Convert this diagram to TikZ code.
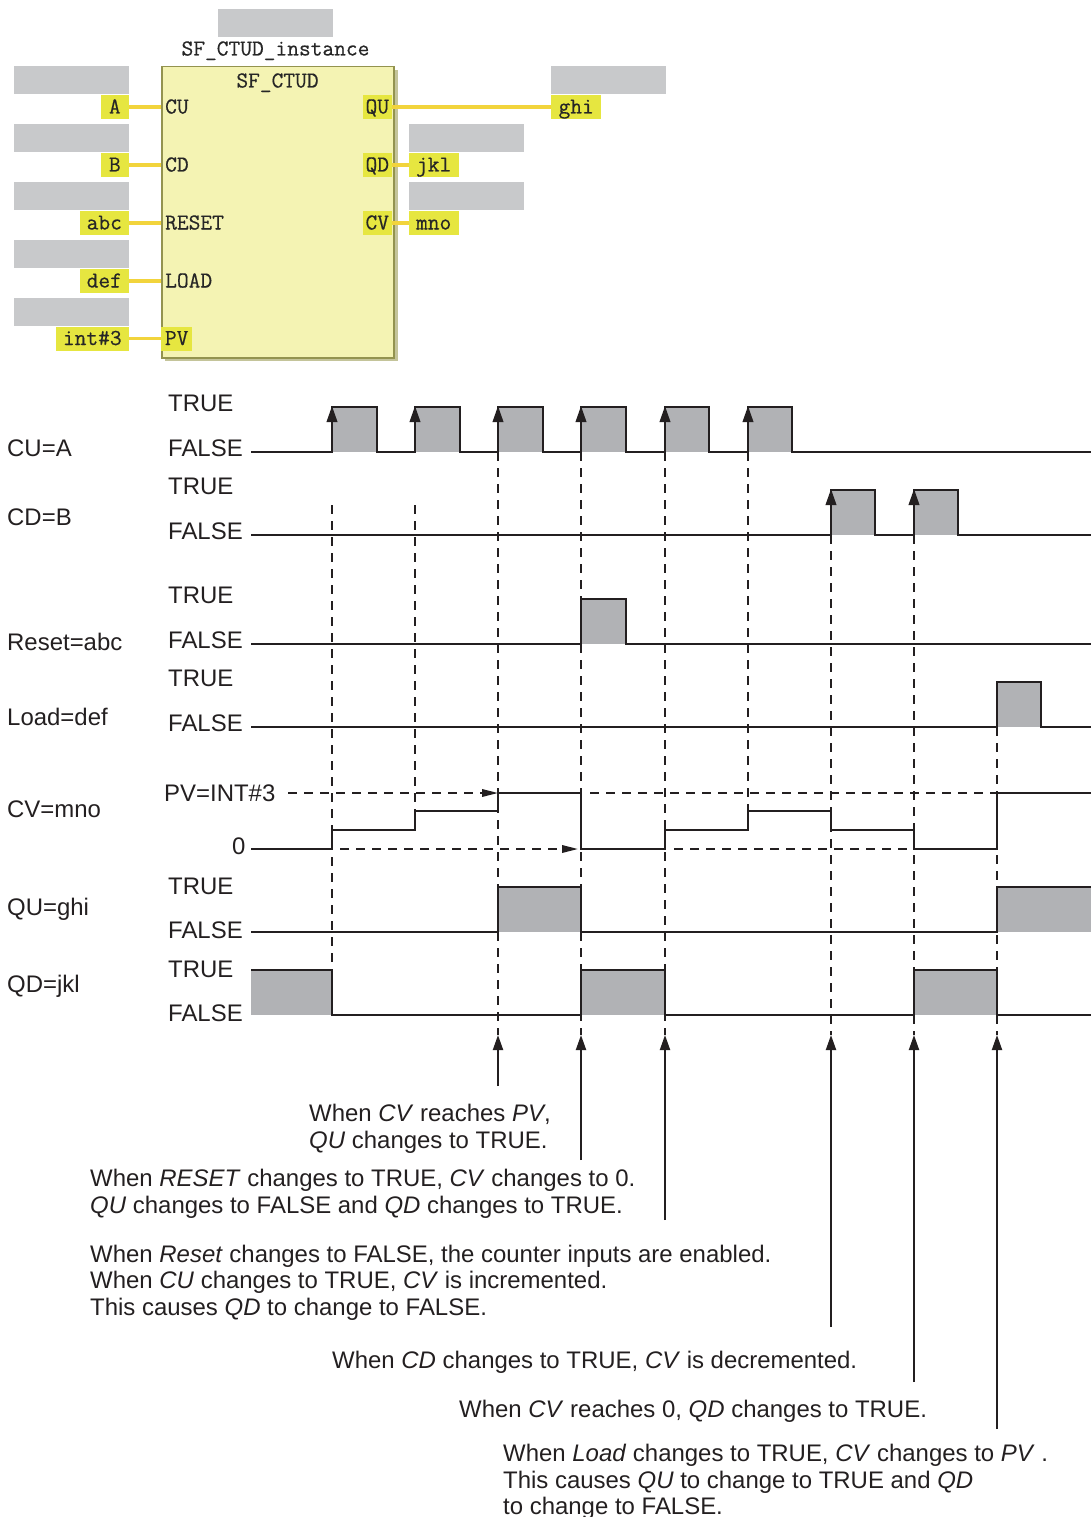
\documentclass[tikz,border=0pt]{standalone}
\usepackage{fontspec}
\setmainfont{Liberation Sans}
\newfontfamily\plcfont[FakeBold=0.5]{Latin Modern Mono}
\usetikzlibrary{arrows.meta}
\definecolor{wavegray}{HTML}{B1B2B5}
\definecolor{hidegray}{HTML}{C8C9CB}
\definecolor{fbfill}{HTML}{F4F3B3}
\definecolor{fbedge}{HTML}{93934F}
\definecolor{fbshadow}{HTML}{C4C49A}
\definecolor{labelyellow}{HTML}{E6E640}
\definecolor{wireyellow}{HTML}{F2D43C}
\definecolor{inkblack}{HTML}{231F20}
\tikzset{
  x=1pt,y=-1pt,
  hidebox/.style={draw=none,fill=hidegray,minimum width=115pt,minimum height=28pt,inner sep=0pt,anchor=north west},
  varlabel/.style={fill=labelyellow,minimum height=24pt,inner sep=0pt,text height=16pt,text depth=3pt,font=\plcfont\fontsize{22.8}{24}\selectfont,text=black!85},
  pinlabel/.style={font=\plcfont\fontsize{22.8}{24}\selectfont,text=black!85,inner sep=0pt,text height=16pt,text depth=3pt,anchor=west},
  wire/.style={wireyellow,line width=3.8pt},
  caplabel/.style={font=\fontsize{23.95}{26.6}\selectfont,text=inkblack,inner sep=0pt,anchor=base west},
  wave/.style={inkblack,line width=2.2pt,line join=miter},
  guide/.style={inkblack,line width=1.8pt,dash pattern=on 9pt off 7pt},
  pointer/.style={inkblack,line width=2pt,-{Triangle[length=15pt,width=10pt]}},
  edgearrow/.style={inkblack,line width=2.2pt,-{Triangle[length=16pt,width=10.5pt]}},
  levelarrow/.style={inkblack,line width=1.8pt,dash pattern=on 9pt off 7pt,-{Triangle[length=16pt,width=7.5pt]}},
}
\begin{document}
\begin{tikzpicture}
\useasboundingbox (0,0) rectangle (1091,1517);
% ---------- function block ----------
\fill[fbshadow] (165,70) rectangle (398,361);
\node[draw=fbedge,fill=fbfill,line width=1.5pt,minimum width=232pt,minimum height=291pt,inner sep=0pt,anchor=north west] (fb) at (161,66) {};
\node[hidebox] (h0) at (218,8.5) {};
\node[hidebox] (h1) at (14,66) {};
\node[hidebox] (h2) at (14,124) {};
\node[hidebox] (h3) at (14,182) {};
\node[hidebox] (h4) at (14,240) {};
\node[hidebox] (h5) at (14,297.5) {};
\node[hidebox] (h6) at (551,66) {};
\node[hidebox] (h7) at (408.5,124) {};
\node[hidebox] (h8) at (408.5,182) {};
\node[pinlabel,anchor=base] (inst) at (275.5,55.5) {SF\_CTUD\_instance};
\node[pinlabel,anchor=base] (fbname) at (277.5,87.5) {SF\_CTUD};
% input variables
\node[varlabel,minimum width=28pt,anchor=east] (vA) at (129,107) {A};
\node[varlabel,minimum width=28pt,anchor=east] (vB) at (129,165) {B};
\node[varlabel,minimum width=49pt,anchor=east] (vabc) at (129,223) {abc};
\node[varlabel,minimum width=49pt,anchor=east] (vdef) at (129,281) {def};
\node[varlabel,minimum width=73pt,anchor=east] (vint) at (129,338.5) {int\#3};
% output variables
\node[varlabel,minimum width=50pt,anchor=west] (vghi) at (551,107) {ghi};
\node[varlabel,minimum width=50pt,anchor=west] (vjkl) at (408.5,165) {jkl};
\node[varlabel,minimum width=50pt,anchor=west] (vmno) at (408.5,223) {mno};
% pins
\node[pinlabel] (pCU) at (165,107) {CU};
\node[pinlabel] (pCD) at (165,165) {CD};
\node[pinlabel] (pRESET) at (165,223) {RESET};
\node[pinlabel] (pLOAD) at (165,281) {LOAD};
\node[varlabel,minimum width=31pt,anchor=west] (pPV) at (161,338.5) {PV};
\node[varlabel,minimum width=29pt,anchor=east] (pQU) at (392,107) {QU};
\node[varlabel,minimum width=29pt,anchor=east] (pQD) at (392,165) {QD};
\node[varlabel,minimum width=29pt,anchor=east] (pCV) at (392,223) {CV};
% wires
\draw[wire] (vA.east) -- (vA.east -| fb.west);
\draw[wire] (vB.east) -- (vB.east -| fb.west);
\draw[wire] (vabc.east) -- (vabc.east -| fb.west);
\draw[wire] (vdef.east) -- (vdef.east -| fb.west);
\draw[wire] (vint.east) -- (pPV.west);
\draw[wire] (pQU.east) -- (vghi.west);
\draw[wire] (pQD.east) -- (vjkl.west);
\draw[wire] (pCV.east) -- (vmno.west);
% ---------- grey pulses ----------
\foreach \a/\b/\t/\f in {332/377/407/452,415/460/407/452,498/543/407/452,581/626/407/452,665/709/407/452,748/792/407/452,
  831/875/490/535,914/958/490/535,581/626/599/644,997/1041/682/727,498/581/887/932,997/1091/887/932,
  251/332/970/1015,581/665/970/1015,914/997/970/1015}
  \fill[wavegray] (\a,\t) rectangle (\b,\f);
% ---------- guide lines ----------
\foreach \xx/\ya/\yb in {332/505/1015,415/505/811,498/452/1035,581/452/1035,665/452/1035,748/452/811,831/535/1035,914/535/1035,997/727/1035}
  \draw[guide] (\xx,\ya) -- (\xx,\yb);
\coordinate (pvA) at (288,793); \coordinate (pvB) at (498,793);
\coordinate (zrA) at (340,849); \coordinate (zrB) at (578,849);
\draw[levelarrow] (pvA) -- (pvB);
\draw[levelarrow] (zrA) -- (zrB);
\draw[guide] (590,793) -- (997,793);
\draw[guide] (674,849) -- (914,849);
% ---------- waveforms ----------
\draw[wave] (251,452) -- (332,452) -- (332,407) -- (377,407) -- (377,452) -- (415,452) -- (415,407) -- (460,407) -- (460,452)
  -- (498,452) -- (498,407) -- (543,407) -- (543,452) -- (581,452) -- (581,407) -- (626,407) -- (626,452)
  -- (665,452) -- (665,407) -- (709,407) -- (709,452) -- (748,452) -- (748,407) -- (792,407) -- (792,452) -- (1091,452);
\draw[wave] (251,535) -- (831,535) -- (831,490) -- (875,490) -- (875,535) -- (914,535) -- (914,490) -- (958,490) -- (958,535) -- (1091,535);
\draw[wave] (251,644) -- (581,644) -- (581,599) -- (626,599) -- (626,644) -- (1091,644);
\draw[wave] (251,727) -- (997,727) -- (997,682) -- (1041,682) -- (1041,727) -- (1091,727);
\draw[wave] (251,849) -- (332,849) -- (332,830) -- (415,830) -- (415,811) -- (498,811) -- (498,793) -- (581,793) -- (581,849)
  -- (665,849) -- (665,830) -- (748,830) -- (748,811) -- (831,811) -- (831,830) -- (914,830) -- (914,849) -- (997,849) -- (997,793) -- (1091,793);
\draw[wave] (251,932) -- (498,932) -- (498,887) -- (581,887) -- (581,932) -- (997,932) -- (997,887) -- (1091,887);
\draw[wave] (251,970) -- (332,970) -- (332,1015) -- (581,1015) -- (581,970) -- (665,970) -- (665,1015) -- (914,1015) -- (914,970) -- (997,970) -- (997,1015) -- (1091,1015);
% rising-edge arrowheads
\foreach \xx in {332,415,498,581,665,748}
  \draw[edgearrow] (\xx,440) -- (\xx,406);
\foreach \xx in {831,914}
  \draw[edgearrow] (\xx,523) -- (\xx,489);
% ---------- level labels ----------
\node[caplabel] (tCU) at (168,411) {TRUE};
\node[caplabel] (fCU) at (168,456) {FALSE};
\node[caplabel] (tCD) at (168,494) {TRUE};
\node[caplabel] (fCD) at (168,539) {FALSE};
\node[caplabel] (tRE) at (168,603) {TRUE};
\node[caplabel] (fRE) at (168,648) {FALSE};
\node[caplabel] (tLO) at (168,686) {TRUE};
\node[caplabel] (fLO) at (168,731) {FALSE};
\node[caplabel] (tQU) at (168,894) {TRUE};
\node[caplabel] (fQU) at (168,938.5) {FALSE};
\node[caplabel] (tQD) at (168,977) {TRUE};
\node[caplabel] (fQD) at (168,1021.5) {FALSE};
\node[caplabel] (lPV) at (164,801) {PV=INT\#3};
\node[caplabel] (lZero) at (232,854) {0};
\node[caplabel] (nCU) at (7,456) {CU=A};
\node[caplabel] (nCD) at (7,525.5) {CD=B};
\node[caplabel] (nRE) at (7,650) {Reset=abc};
\node[caplabel] (nLO) at (7,725) {Load=def};
\node[caplabel] (nCV) at (7,817) {CV=mno};
\node[caplabel] (nQU) at (7,915) {QU=ghi};
\node[caplabel] (nQD) at (7,992) {QD=jkl};
% ---------- notes ----------
\node[caplabel] (n1a) at (309,1121) {When \textit{CV} reaches \textit{PV},};
\node[caplabel] (n1b) at (309,1148) {\textit{QU} changes to TRUE.};
\node[caplabel] (n2a) at (90,1186) {When \textit{RESET} changes to TRUE, \textit{CV} changes to 0.};
\node[caplabel] (n2b) at (90,1213) {\textit{QU} changes to FALSE and \textit{QD} changes to TRUE.};
\node[caplabel] (n3a) at (90,1262) {When \textit{Reset} changes to FALSE, the counter inputs are enabled.};
\node[caplabel] (n3b) at (90,1288.5) {When \textit{CU} changes to TRUE, \textit{CV} is incremented.};
\node[caplabel] (n3c) at (90,1315) {This causes \textit{QD} to change to FALSE.};
\node[caplabel] (n4) at (332,1368) {When \textit{CD} changes to TRUE, \textit{CV} is decremented.};
\node[caplabel] (n5) at (459,1417) {When \textit{CV} reaches 0, \textit{QD} changes to TRUE.};
\node[caplabel] (n6a) at (503,1461) {When \textit{Load} changes to TRUE, \textit{CV} changes to \textit{PV} .};
\node[caplabel] (n6b) at (503,1488) {This causes \textit{QU} to change to TRUE and \textit{QD}};
\node[caplabel] (n6c) at (503,1514) {to change to FALSE.};
% ---------- pointers ----------
\foreach \nm/\xx/\ya in {a/498/1086,b/581/1160,c/665/1220,d/831/1327,e/914/1382,f/997/1429}{
  \coordinate (s\nm) at (\xx,\ya);
  \coordinate (e\nm) at (\xx,1035);
  \draw[pointer] (s\nm) -- (e\nm);
}
\end{tikzpicture}
\end{document}
